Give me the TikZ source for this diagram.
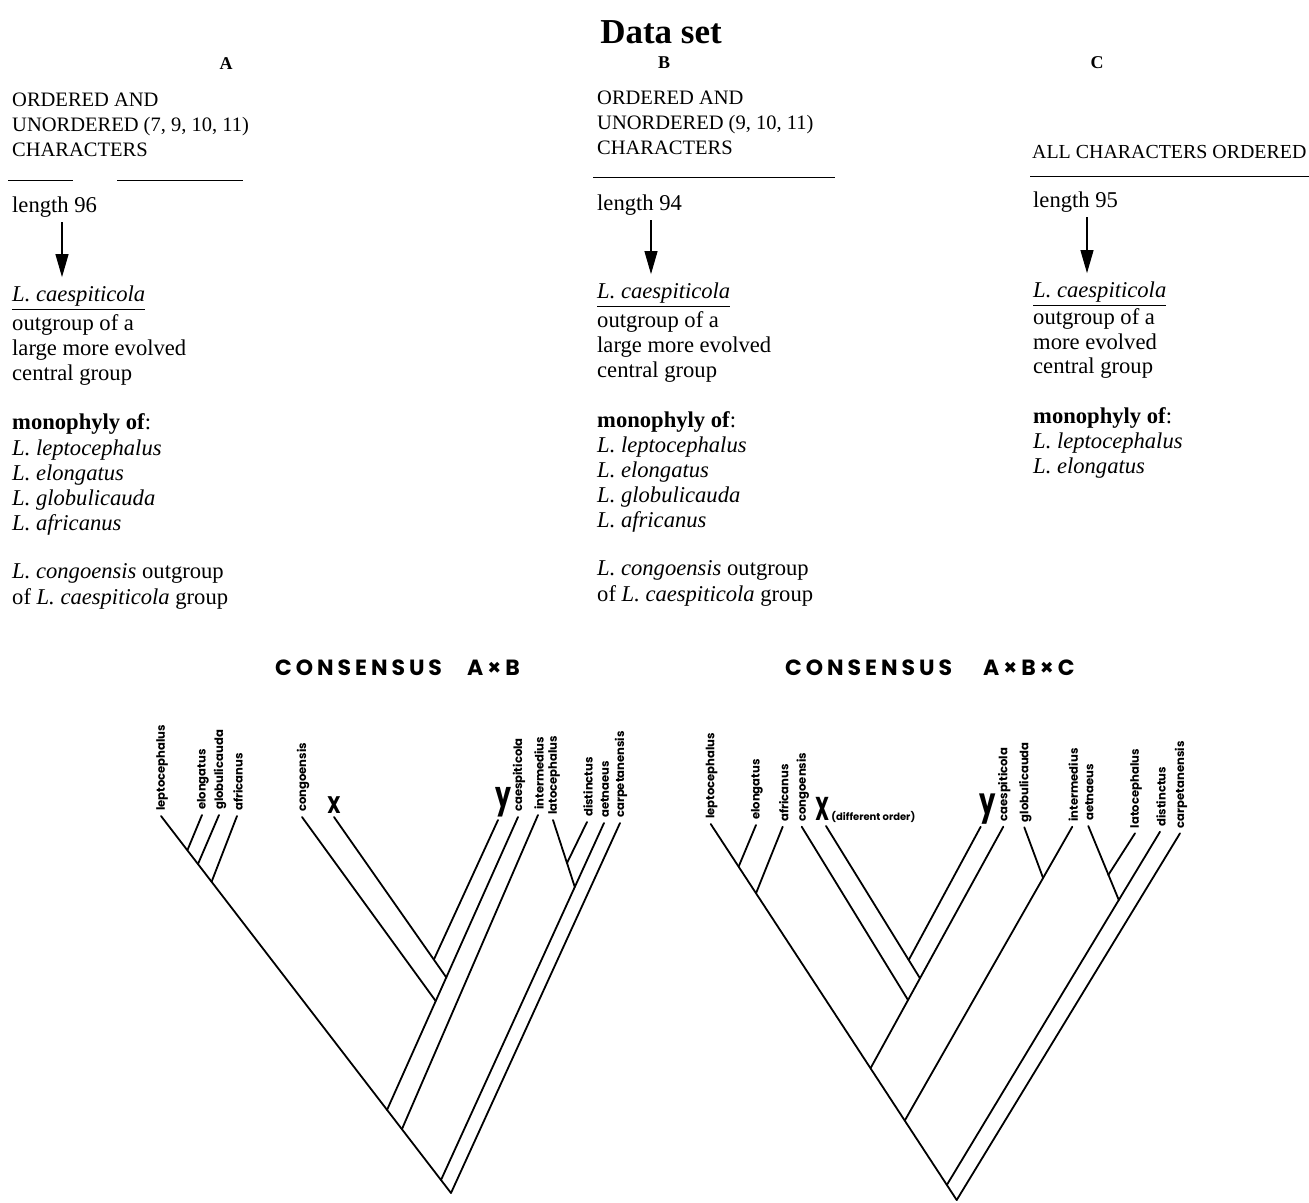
\documentclass[tikz,border=0pt]{standalone}
\usepackage{fontspec}
\setmainfont{Liberation Serif}
\newfontfamily\taxfont{Poppins}
\newfontfamily\consfont[LetterSpace=18]{Poppins}
\usepackage{tikz}
\usetikzlibrary{arrows.meta, positioning}

\begin{document}
\begin{tikzpicture}[x=1pt, y=-1pt]
    \tikzstyle{title} = [anchor=base, inner sep=0pt, font=\bfseries\fontsize{35}{38}\selectfont]
    \tikzstyle{setname} = [anchor=base, inner sep=0pt, font=\bfseries\fontsize{18}{20}\selectfont]
    \tikzstyle{caps} = [anchor=base west, inner sep=0pt, font=\fontsize{20.5}{25}\selectfont]
    \tikzstyle{txt} = [anchor=base west, inner sep=0pt, font=\fontsize{22.6}{25}\selectfont]
    \tikzstyle{taxon} = [rotate=90, anchor=west, inner sep=0pt, font=\taxfont\bfseries\fontsize{11.6}{13}\selectfont]
    \tikzstyle{conshead} = [anchor=base west, inner sep=0pt, font=\consfont\bfseries\fontsize{22}{26}\selectfont]
    \tikzstyle{bigletter} = [inner sep=0pt, font=\taxfont\bfseries\fontsize{24}{28}\selectfont]
    \tikzstyle{note} = [anchor=base west, inner sep=0pt, font=\taxfont\bfseries\fontsize{10}{12}\selectfont]
    \tikzstyle{branch} = [draw, line width=1.8pt, line cap=round]
    \tikzstyle{rule} = [draw, line width=0.8pt]
    \tikzstyle{pointer} = [draw, line width=1.1pt, shorten <=5pt, shorten >=8pt, -{Triangle[length=23pt, width=13pt]}]

    \useasboundingbox (0,0) rectangle (1309,1202);

    % headings
    \node [title] (dataset) at (661,43) {Data set};
    \node [setname] (setA) at (226,69) {A};
    \node [setname] (setB) at (664,68) {B};
    \node [setname] (setC) at (1097,68) {C};

    % data set A
    \node [caps] (a1) at (12,106) {ORDERED AND};
    \node [caps] (a2) at (12,131) {UNORDERED (7, 9, 10, 11)};
    \node [caps] (a3) at (12,156) {CHARACTERS};
    \draw [rule] (8,180) -- (73,180) (117,180) -- (243,180);
    \node [txt] (alen) at (12,212) {length 96};
    \node [txt] (acae) at (12,301) {\textit{L. caespiticola}};
    \draw [rule] ([yshift=-3pt]acae.south west) -- ([yshift=-3pt]acae.south east);
    \node [txt] (a4) at (12,330) {outgroup of a};
    \node [txt] (a5) at (12,355) {large more evolved};
    \node [txt] (a6) at (12,380) {central group};
    \node [txt] (a7) at (12,429) {\textbf{monophyly of}:};
    \node [txt] (a8) at (12,455) {\textit{L. leptocephalus}};
    \node [txt] (a9) at (12,480) {\textit{L. elongatus}};
    \node [txt] (a10) at (12,505) {\textit{L. globulicauda}};
    \node [txt] (a11) at (12,530) {\textit{L. africanus}};
    \node [txt] (a12) at (12,578) {\textit{L. congoensis} outgroup};
    \node [txt] (a13) at (12,604) {of \textit{L. caespiticola} group};
    \coordinate (aarr) at (62,0);
    \path [pointer] (alen.south -| aarr) -- (acae.north -| aarr);

    % data set B
    \node [caps] (b1) at (597,104) {ORDERED AND};
    \node [caps] (b2) at (597,129) {UNORDERED (9, 10, 11)};
    \node [caps] (b3) at (597,154) {CHARACTERS};
    \draw [rule] (593,177) -- (835,177);
    \node [txt] (blen) at (597,210) {length 94};
    \node [txt] (bcae) at (597,298) {\textit{L. caespiticola}};
    \draw [rule] ([yshift=-3pt]bcae.south west) -- ([yshift=-3pt]bcae.south east);
    \node [txt] (b4) at (597,327) {outgroup of a};
    \node [txt] (b5) at (597,352) {large more evolved};
    \node [txt] (b6) at (597,377) {central group};
    \node [txt] (b7) at (597,427) {\textbf{monophyly of}:};
    \node [txt] (b8) at (597,452) {\textit{L. leptocephalus}};
    \node [txt] (b9) at (597,477) {\textit{L. elongatus}};
    \node [txt] (b10) at (597,502) {\textit{L. globulicauda}};
    \node [txt] (b11) at (597,527) {\textit{L. africanus}};
    \node [txt] (b12) at (597,575) {\textit{L. congoensis} outgroup};
    \node [txt] (b13) at (597,601) {of \textit{L. caespiticola} group};
    \coordinate (barr) at (651,0);
    \path [pointer] (blen.south -| barr) -- (bcae.north -| barr);

    % data set C
    \node [caps, font=\fontsize{19.9}{25}\selectfont] (c1) at (1032,158) {ALL CHARACTERS ORDERED};
    \draw [rule] (1030,176) -- (1309,176);
    \node [txt] (clen) at (1033,207) {length 95};
    \node [txt] (ccae) at (1033,297) {\textit{L. caespiticola}};
    \draw [rule] ([yshift=-3pt]ccae.south west) -- ([yshift=-3pt]ccae.south east);
    \node [txt] (c4) at (1033,324) {outgroup of a};
    \node [txt] (c5) at (1033,349) {more evolved};
    \node [txt] (c6) at (1033,373) {central group};
    \node [txt] (c7) at (1033,423) {\textbf{monophyly of}:};
    \node [txt] (c8) at (1033,448) {\textit{L. leptocephalus}};
    \node [txt] (c9) at (1033,473) {\textit{L. elongatus}};
    \coordinate (carr) at (1087,0);
    \path [pointer] (clen.south -| carr) -- (ccae.north -| carr);

    % consensus A x B
    \node [conshead] (abhead) at (275,675) {CONSENSUS};
    \node [conshead] (abops) at (467,675) {A×B};
    \coordinate (p-root) at (451,1193);
    \coordinate (p-lep) at (161,816);
    \coordinate (p-elo) at (202,815);
    \coordinate (p-glo) at (219,815);
    \coordinate (p-afr) at (237,816);
    \coordinate (p-con) at (302,817);
    \coordinate (p-x) at (334,817);
    \coordinate (p-y) at (498,820);
    \coordinate (p-cae) at (518,817);
    \coordinate (p-int) at (538,815);
    \coordinate (p-lat) at (553,820);
    \coordinate (p-dis) at (587,822);
    \coordinate (p-aet) at (604,823);
    \coordinate (p-car) at (620,823);
    \coordinate (p-n1) at (187.5,850);
    \coordinate (p-n2) at (198,864);
    \coordinate (p-n3) at (211.5,882);
    \coordinate (p-n4) at (387,1110);
    \coordinate (p-n5) at (402,1129);
    \coordinate (p-n6) at (441,1180);
    \coordinate (p-n7) at (446.5,977.7);
    \coordinate (p-n8) at (435.7,1001);
    \coordinate (p-n9) at (434,959.3);
    \coordinate (p-n10) at (574.8,887);
    \coordinate (p-n11) at (567,863);

    \node [taxon] (p-lep-t) at ([shift={(1,-5)}]p-lep) {leptocephalus};
    \node [taxon] (p-elo-t) at ([shift={(1,-5)}]p-elo) {elongatus};
    \node [taxon] (p-glo-t) at ([shift={(1,-5)}]p-glo) {globulicauda};
    \node [taxon] (p-afr-t) at ([shift={(1,-5)}]p-afr) {africanus};
    \node [taxon] (p-con-t) at ([shift={(1,-5)}]p-con) {congoensis};
    \node [bigletter, anchor=base, xscale=0.8] (p-x-t) at ([yshift=4pt]p-x) {X};
    \node [bigletter, anchor=south, xscale=0.7, font=\taxfont\bfseries\fontsize{36}{40}\selectfont] (p-y-t) at ([shift={(5,-3)}]p-y) {y};
    \node [taxon] (p-cae-t) at ([shift={(1,-5)}]p-cae) {caespiticola};
    \node [taxon] (p-int-t) at ([shift={(1,-5)}]p-int) {intermedius};
    \node [taxon] (p-lat-t) at ([shift={(1,-5)}]p-lat) {latocephalus};
    \node [taxon] (p-dis-t) at ([shift={(1,-5)}]p-dis) {distinctus};
    \node [taxon] (p-aet-t) at ([shift={(1,-5)}]p-aet) {aetnaeus};
    \node [taxon] (p-car-t) at ([shift={(1,-5)}]p-car) {carpetanensis};

    \path [branch] (p-lep) -- (p-root);
    \path [branch] (p-elo) -- (p-n1);
    \path [branch] (p-glo) -- (p-n2);
    \path [branch] (p-afr) -- (p-n3);
    \path [branch] (p-con) -- (p-n8);
    \path [branch] (p-x) -- (p-n7);
    \path [branch] (p-y) -- (p-n9);
    \path [branch] (p-cae) -- (p-n4);
    \path [branch] (p-int) -- (p-n5);
    \path [branch] (p-lat) -- (p-n10);
    \path [branch] (p-dis) -- (p-n11);
    \path [branch] (p-aet) -- (p-n6);
    \path [branch] (p-car) -- (p-root);

    % consensus A x B x C
    \node [conshead] (abchead) at (785,675) {CONSENSUS};
    \node [conshead] (abcops) at (983,675) {A×B×C};
    \coordinate (q-root) at (956.7,1200);
    \coordinate (q-lep) at (710.7,824);
    \coordinate (q-elo) at (756,825);
    \coordinate (q-afr) at (782.7,826.7);
    \coordinate (q-con) at (801.7,826.7);
    \coordinate (q-x) at (826,826);
    \coordinate (q-y) at (980.7,826.7);
    \coordinate (q-cae) at (1003.3,826.7);
    \coordinate (q-glo) at (1024.3,827.3);
    \coordinate (q-int) at (1072.3,826.7);
    \coordinate (q-aet) at (1088.3,826);
    \coordinate (q-lat) at (1135,833.3);
    \coordinate (q-dis) at (1160,831.7);
    \coordinate (q-car) at (1180,833.3);
    \coordinate (q-n1) at (738.6,866.7);
    \coordinate (q-n2) at (756,893.3);
    \coordinate (q-n3) at (870.5,1068.3);
    \coordinate (q-n4) at (904.7,1120.7);
    \coordinate (q-n5) at (946.8,1185);
    \coordinate (q-n6) at (908,1000);
    \coordinate (q-n7) at (920,978.3);
    \coordinate (q-n8) at (908.7,960);
    \coordinate (q-n9) at (1043.1,878);
    \coordinate (q-n10) at (1118.8,900);
    \coordinate (q-n11) at (1108.3,875);

    \node [taxon] (q-lep-t) at ([shift={(1,-5)}]q-lep) {leptocephalus};
    \node [taxon] (q-elo-t) at ([shift={(1,-5)}]q-elo) {elongatus};
    \node [taxon] (q-afr-t) at ([shift={(1,-5)}]q-afr) {africanus};
    \node [taxon] (q-con-t) at ([shift={(1,-5)}]q-con) {congoensis};
    \node [bigletter, anchor=base, xscale=0.6, font=\taxfont\bfseries\fontsize{33}{36}\selectfont] (q-x-t) at ([shift={(-3,-6)}]q-x) {X};
    \node [note] (q-x-note) at ([xshift=1pt]q-x-t.base east) {(different order)};
    \node [bigletter, anchor=south, xscale=0.7, font=\taxfont\bfseries\fontsize{37}{40}\selectfont] (q-y-t) at ([shift={(7,-2)}]q-y) {y};
    \node [taxon] (q-cae-t) at ([shift={(1,-5)}]q-cae) {caespiticola};
    \node [taxon] (q-glo-t) at ([shift={(1,-5)}]q-glo) {globulicauda};
    \node [taxon] (q-int-t) at ([shift={(1,-5)}]q-int) {intermedius};
    \node [taxon] (q-aet-t) at ([shift={(1,-5)}]q-aet) {aetnaeus};
    \node [taxon] (q-lat-t) at ([shift={(1,-5)}]q-lat) {latocephalus};
    \node [taxon] (q-dis-t) at ([shift={(1,-5)}]q-dis) {distinctus};
    \node [taxon] (q-car-t) at ([shift={(1,-5)}]q-car) {carpetanensis};

    \path [branch] (q-lep) -- (q-root);
    \path [branch] (q-elo) -- (q-n1);
    \path [branch] (q-afr) -- (q-n2);
    \path [branch] (q-con) -- (q-n6);
    \path [branch] (q-x) -- (q-n7);
    \path [branch] (q-y) -- (q-n8);
    \path [branch] (q-cae) -- (q-n3);
    \path [branch] (q-glo) -- (q-n9);
    \path [branch] (q-int) -- (q-n4);
    \path [branch] (q-aet) -- (q-n10);
    \path [branch] (q-lat) -- (q-n11);
    \path [branch] (q-dis) -- (q-n5);
    \path [branch] (q-car) -- (q-root);
\end{tikzpicture}
\end{document}
